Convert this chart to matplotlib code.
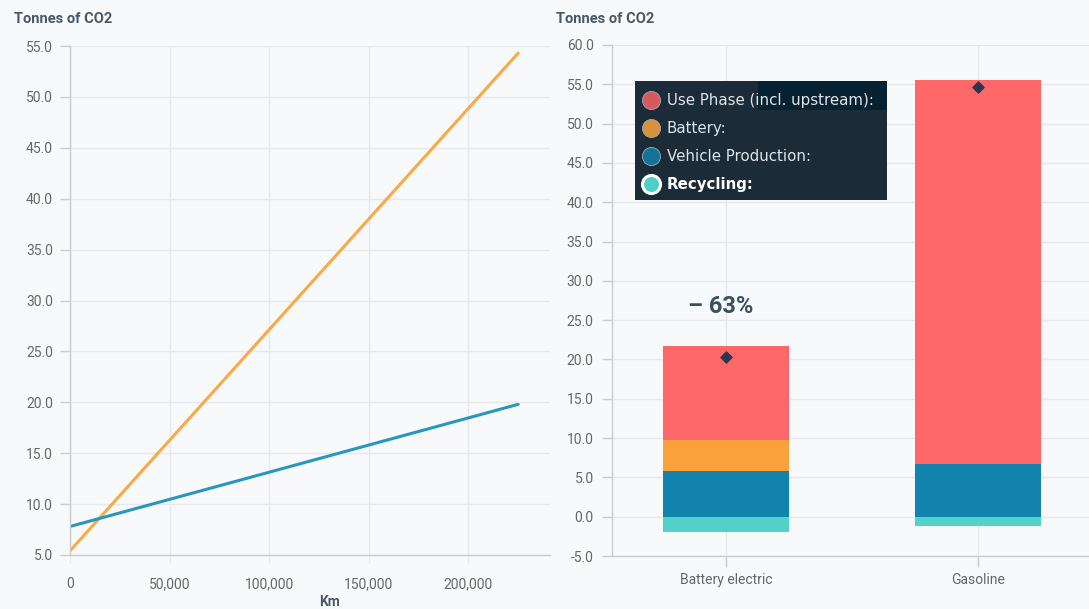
import matplotlib.pyplot as plt
from matplotlib.patches import Rectangle
from matplotlib.ticker import FuncFormatter

plt.rcParams['font.family'] = ['Roboto', 'DejaVu Sans']

# Lifetime emissions vs. distance driven
km = [0, 225000]
gasoline_line = [5.4, 54.3]
electric_line = [7.8, 19.8]

# Lifecycle breakdown per powertrain
powertrains = ["Battery electric", "Gasoline"]
use_phase = [11.9, 48.8]
battery = [3.9, 0.0]
vehicle_production = [5.85, 6.7]
recycling = [-2.0, -1.2]
net_total = [20.3, 54.7]

series_names = ["Use Phase (incl. upstream):", "Battery:", "Vehicle Production:", "Recycling:"]
bar_colors = ["#ff6868", "#f9a13a", "#1183ae", "#52d1c7"]
legend_colors = ["#d9575e", "#d9913a", "#157399", "#4fd0c6"]

bg = "#f7f9fb"
grid_c = "#e6e9ec"
axis_c = "#c9ccd0"
tick_txt = "#666666"
title_c = "#4a5864"

W, H = 1089, 609
fig = plt.figure(figsize=(W / 100, H / 100), dpi=100)
fig.patch.set_facecolor(bg)


def px_box(x0, y_top, x1, y_bot):
    return [x0 / W, 1 - y_bot / H, (x1 - x0) / W, (y_bot - y_top) / H]


def style_axes(ax):
    ax.set_facecolor(bg)
    for s in ["top", "right"]:
        ax.spines[s].set_visible(False)
    for s in ["left", "bottom"]:
        ax.spines[s].set_color(axis_c)
        ax.spines[s].set_linewidth(1.0)
    ax.grid(True, color=grid_c, linewidth=1.0)
    ax.set_axisbelow(True)
    ax.tick_params(axis="y", length=7.2, width=1.0, color=axis_c,
                   labelsize=10, labelcolor=tick_txt)
    ax.yaxis.set_major_formatter(FuncFormatter(lambda v, p: f"{v:.1f}"))


# --- left: cumulative emissions over distance
ax1 = fig.add_axes(px_box(70, 46, 550, 555))
style_axes(ax1)
ax1.plot(km, gasoline_line, color="#f9a947", linewidth=2.2, solid_capstyle="round")
ax1.plot(km, electric_line, color="#2a95bd", linewidth=2.2, solid_capstyle="round")
ax1.set_xlim(0, 241000)
ax1.set_ylim(5, 55)
ax1.set_yticks(range(5, 56, 5))
ax1.set_xticks(range(0, 200001, 50000))
ax1.xaxis.set_major_formatter(FuncFormatter(lambda v, p: f"{int(v):,}"))
ax1.tick_params(axis="x", length=6, width=1.0, color=grid_c, pad=10,
                labelsize=10, labelcolor=tick_txt)
ax1.tick_params(axis="y", pad=5)

fig.text(14 / W, 1 - 19 / H, "Tonnes of CO2", fontsize=10.5, fontweight="bold",
         color=title_c, va="center", ha="left")
fig.text(330 / W, 1 - 602 / H, "Km", fontsize=10, fontweight="bold",
         color=title_c, va="center", ha="center")

# --- right: stacked lifecycle bars
ax2 = fig.add_axes(px_box(612, 45, W, 556))
style_axes(ax2)
pos = list(range(len(powertrains)))
bw = 0.5
bottom_pos = [0.0] * len(pos)
for vals, c in zip([vehicle_production, battery, use_phase], [bar_colors[2], bar_colors[1], bar_colors[0]]):
    ax2.bar(pos, vals, bw, bottom=bottom_pos, color=c, zorder=2)
    bottom_pos = [b + v for b, v in zip(bottom_pos, vals)]
ax2.bar(pos, recycling, bw, color=bar_colors[3], zorder=2)
ax2.scatter(pos, net_total, marker="D", s=32, color="#253a52", zorder=3)

change = round((net_total[0] / net_total[1] - 1) * 100)
ax2.text(pos[0] - 0.02, 26.7, f"\u2013 {abs(change)}%", ha="center", va="center",
         fontsize=17, fontweight="bold", color="#3d4f5c")

ax2.set_xlim(-0.453, 1.442)
ax2.set_ylim(-5, 60)
ax2.set_yticks(range(-5, 61, 5))
ax2.set_xticks(pos)
ax2.set_xticklabels(powertrains)
ax2.tick_params(axis="x", length=8, width=1.0, color=axis_c, pad=4,
                labelsize=10, labelcolor=tick_txt)
ax2.tick_params(axis="y", pad=6)

fig.text(556 / W, 1 - 19 / H, "Tonnes of CO2", fontsize=10.5, fontweight="bold",
         color=title_c, va="center", ha="left")

# dark series key box
fig.patches.append(Rectangle((635 / W, 1 - 200 / H), 252 / W, 119 / H,
                             transform=fig.transFigure, facecolor="#1b2b37",
                             edgecolor="none", zorder=5))
fig.patches.append(Rectangle((758 / W, 1 - 110 / H), 129 / W, 29 / H,
                             transform=fig.transFigure, facecolor="#062232",
                             edgecolor="none", zorder=5))
row_y = [100, 128.3, 156.3, 184.3]
for i, (name, c) in enumerate(zip(series_names, legend_colors)):
    last = i == len(series_names) - 1
    fig.lines.append(plt.Line2D([651 / W], [1 - row_y[i] / H], transform=fig.transFigure,
                                marker="o", markersize=13, markerfacecolor=c,
                                markeredgecolor="white" if last else "#9fb0bb",
                                markeredgewidth=2.2 if last else 0.6,
                                linestyle="none", zorder=6))
    fig.text(667 / W, 1 - row_y[i] / H, name, fontsize=10.8, family="DejaVu Sans",
             fontweight="bold" if last else "normal",
             color="white" if last else "#e2e4e6", va="center", ha="left", zorder=7)

fig.savefig("out.png", dpi=100, facecolor=bg)
